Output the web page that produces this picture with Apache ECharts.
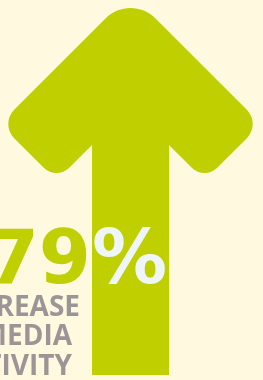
<!DOCTYPE html>
<html>
<head>
<meta charset="utf-8">
<style>
  html, body { margin: 0; padding: 0; background: #fffadf; }
  #chart { width: 263px; height: 380px; }
</style>
<script src="https://cdn.jsdelivr.net/npm/echarts@6/dist/echarts.min.js"></script>
</head>
<body>
<div id="chart"></div>
<script>
// data
const categories = ['increase'];
const values = [79];
const valueLabel = ['79', '%'];
const captionLines = ['INCREASE', 'SOCIAL MEDIA', 'ACTIVITY'];

// arrow outline, scaled by the pictorialBar to the bar length
const arrowPath = 'path://M92 375 L92 145 L69.23 167.77 C62.2 174.8 50.8 174.8 43.77 167.77 ' +
    'L14.14 138.14 C6.33 130.33 6.33 117.67 14.14 109.86 L105.75 18.25 ' +
    'C119.42 4.58 141.58 4.58 155.25 18.25 L246.86 109.86 ' +
    'C254.67 117.67 254.67 130.33 246.86 138.14 L217.23 167.77 ' +
    'C210.2 174.8 198.8 174.8 191.77 167.77 L169 145 L169 375 Z';

const green = '#bfcf00';
const grey = '#9b9597';
const captionFont = '"Open Sans", sans-serif';
const numberFont = '"DejaVu Sans", sans-serif';

let myChart = echarts.init(document.getElementById('chart'));

let captionGraphics = captionLines.map((line, index) => ({
    type: 'text',
    z: 10,
    style: {
        text: line,
        x: index === 0 ? 80 : 72,
        y: 308 + index * 29.5,
        align: 'right',
        verticalAlign: 'middle',
        fill: grey,
        font: 'bold 28px ' + captionFont
    }
}));

let option = {
    backgroundColor: '#fffadf',
    animation: false,
    grid: { top: 8, bottom: 5, left: 8, right: 10 },
    xAxis: {
        type: 'category',
        data: categories,
        show: false
    },
    yAxis: {
        type: 'value',
        min: 0,
        max: 79,
        show: false
    },
    series: [
        {
            type: 'pictorialBar',
            data: values,
            symbol: arrowPath,
            symbolSize: [244.4, '100%'],
            symbolPosition: 'start',
            itemStyle: { color: green }
        }
    ],
    graphic: [
        {
            type: 'text',
            z: 10,
            style: {
                text: valueLabel[0],
                x: 91,
                y: 264,
                align: 'right',
                verticalAlign: 'middle',
                fill: green,
                font: 'bold 75px ' + numberFont
            }
        },
        {
            type: 'text',
            z: 10,
            style: {
                text: valueLabel[1],
                x: 92,
                y: 264,
                align: 'left',
                verticalAlign: 'middle',
                fill: '#eef5fb',
                font: 'bold 75px ' + numberFont
            }
        }
    ].concat(captionGraphics)
};
myChart.setOption(option);
</script>
</body>
</html>
